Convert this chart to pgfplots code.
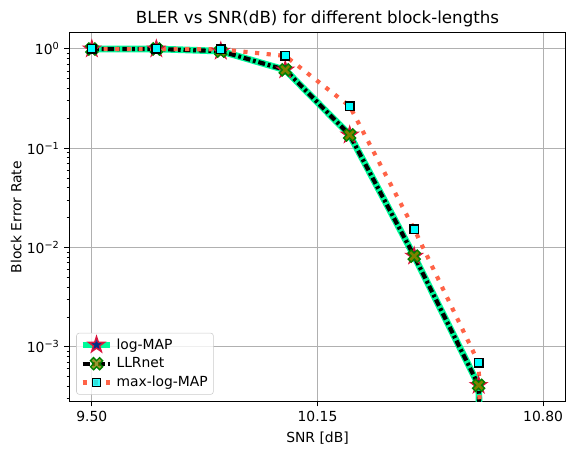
\documentclass[border=0pt]{standalone}
\usepackage{pgfplots}
\pgfplotsset{compat=1.18}
\usepackage{fontspec}
\setmainfont{DejaVu Sans}
\definecolor{mgreen}{HTML}{00FA9A}
\definecolor{mtomato}{HTML}{FF6347}
\definecolor{mcyan}{HTML}{00FFFF}
\definecolor{molive}{HTML}{808000}
\definecolor{mdgreen}{HTML}{008000}
\definecolor{mnavy}{HTML}{000080}
\definecolor{mcrimson}{HTML}{DC143C}
\definecolor{mgrid}{HTML}{B0B0B0}
\definecolor{mlegend}{HTML}{CCCCCC}
\pgfdeclareplotmark{mstar}{%
  \pgfpathmoveto{\pgfpointpolar{90}{\pgfplotmarksize}}%
  \pgfpathlineto{\pgfpointpolar{126}{0.382\pgfplotmarksize}}%
  \pgfpathlineto{\pgfpointpolar{162}{\pgfplotmarksize}}%
  \pgfpathlineto{\pgfpointpolar{198}{0.382\pgfplotmarksize}}%
  \pgfpathlineto{\pgfpointpolar{234}{\pgfplotmarksize}}%
  \pgfpathlineto{\pgfpointpolar{270}{0.382\pgfplotmarksize}}%
  \pgfpathlineto{\pgfpointpolar{306}{\pgfplotmarksize}}%
  \pgfpathlineto{\pgfpointpolar{342}{0.382\pgfplotmarksize}}%
  \pgfpathlineto{\pgfpointpolar{18}{\pgfplotmarksize}}%
  \pgfpathlineto{\pgfpointpolar{54}{0.382\pgfplotmarksize}}%
  \pgfpathclose\pgfusepathqfillstroke}
\pgfdeclareplotmark{mX}{%
  \pgfpathmoveto{\pgfqpoint{0.4714\pgfplotmarksize}{-0.9428\pgfplotmarksize}}%
  \pgfpathlineto{\pgfqpoint{0.9428\pgfplotmarksize}{-0.4714\pgfplotmarksize}}%
  \pgfpathlineto{\pgfqpoint{0.4714\pgfplotmarksize}{0pt}}%
  \pgfpathlineto{\pgfqpoint{0.9428\pgfplotmarksize}{0.4714\pgfplotmarksize}}%
  \pgfpathlineto{\pgfqpoint{0.4714\pgfplotmarksize}{0.9428\pgfplotmarksize}}%
  \pgfpathlineto{\pgfqpoint{0pt}{0.4714\pgfplotmarksize}}%
  \pgfpathlineto{\pgfqpoint{-0.4714\pgfplotmarksize}{0.9428\pgfplotmarksize}}%
  \pgfpathlineto{\pgfqpoint{-0.9428\pgfplotmarksize}{0.4714\pgfplotmarksize}}%
  \pgfpathlineto{\pgfqpoint{-0.4714\pgfplotmarksize}{0pt}}%
  \pgfpathlineto{\pgfqpoint{-0.9428\pgfplotmarksize}{-0.4714\pgfplotmarksize}}%
  \pgfpathlineto{\pgfqpoint{-0.4714\pgfplotmarksize}{-0.9428\pgfplotmarksize}}%
  \pgfpathlineto{\pgfqpoint{0pt}{-0.4714\pgfplotmarksize}}%
  \pgfpathclose\pgfusepathqfillstroke}
\pgfplotstableread{
x logmap llrnet maxlog
9.5       1.0     1.0     1.0
9.685714  1.0     1.0     1.0
9.871429  0.95    0.95    0.99
10.057143 0.615   0.615   0.85
10.242857 0.136   0.136   0.265
10.428571 0.0082  0.0082  0.0153
10.614286 4.1e-4  4.1e-4  6.9e-4
10.8      1e-30   1e-30   1e-30
}\bler
\begin{document}
\begin{tikzpicture}
\begin{axis}[
  scale only axis, width=357.4pt, height=265.7pt,
  ymode=log, log basis y=10,
  xmin=9.435, xmax=10.865, ymin=2.805e-4, ymax=1.459,
  xtick={9.5,10.15,10.8}, xticklabels={9.50,10.15,10.80},
  ytick={1e-3,1e-2,1e-1,1},
  yticklabels={10\textsuperscript{−3},10\textsuperscript{−2},10\textsuperscript{−1},10\textsuperscript{0}},
  minor ytick={3e-4,4e-4,5e-4,6e-4,7e-4,8e-4,9e-4,2e-3,3e-3,4e-3,5e-3,6e-3,7e-3,8e-3,9e-3,2e-2,3e-2,4e-2,5e-2,6e-2,7e-2,8e-2,9e-2,2e-1,3e-1,4e-1,5e-1,6e-1,7e-1,8e-1,9e-1},
  xtick pos=bottom, ytick pos=left,
  tick align=outside, major tick length=3.5pt, minor tick length=2pt,
  major tick style={black, line width=0.8pt}, minor tick style={black, line width=0.6pt},
  grid=major, major grid style={mgrid, line width=0.8pt},
  axis line style={black, line width=0.8pt},
  ticklabel style={font=\fontsize{10}{12}\selectfont},
  title={BLER vs SNR(dB) for different block-lengths},
  title style={font=\fontsize{12}{14.4}\selectfont, yshift=-5.3pt},
  xlabel={SNR [dB]}, ylabel={Block Error Rate},
  ylabel style={xshift=0pt, yshift=-3pt},
  label style={font=\fontsize{10}{12}\selectfont},
  legend cell align=left,
  legend image code/.code={\draw[mark indices={2}] plot coordinates {(0pt,0pt) (10pt,0pt) (20pt,0pt)};},
  legend style={at={(0,0)}, anchor=south west, xshift=5pt, yshift=5pt,
    draw=mlegend, rounded corners=2pt, fill=white, fill opacity=0.8, text opacity=1,
    font=\fontsize{10}{12}\selectfont, row sep=0.6pt, inner sep=2pt,
    nodes={inner sep=2pt}},
]
\addplot[mgreen, line width=4.8pt, mark=mstar, mark size=6pt, mark indices={1,2,3,4,5,6,7},
  mark options={solid, fill=mnavy, draw=mcrimson, line width=1pt}] table[x=x, y=logmap] {\bler};
\addlegendentry{log-MAP}
\addplot[black, line width=3pt, dash pattern=on 5pt off 2pt on 2pt off 2pt, mark=mX, mark size=4.6pt, mark indices={1,2,3,4,5,6,7},
  mark options={solid, fill=molive, draw=mdgreen, line width=1pt}] table[x=x, y=llrnet] {\bler};
\addlegendentry{LLRnet}
\addplot[mtomato, line width=3pt, dash pattern=on 3pt off 5.4pt, mark=square*, mark size=3pt, mark indices={1,2,3,4,5,6,7},
  mark options={solid, fill=mcyan, draw=black, line width=1pt}] table[x=x, y=maxlog] {\bler};
\addlegendentry{max-log-MAP}
\end{axis}
\pgfresetboundingbox
\path[use as bounding box] (-49.9pt,-36.9pt) rectangle (363.4pt,289.2pt);
\end{tikzpicture}
\end{document}
